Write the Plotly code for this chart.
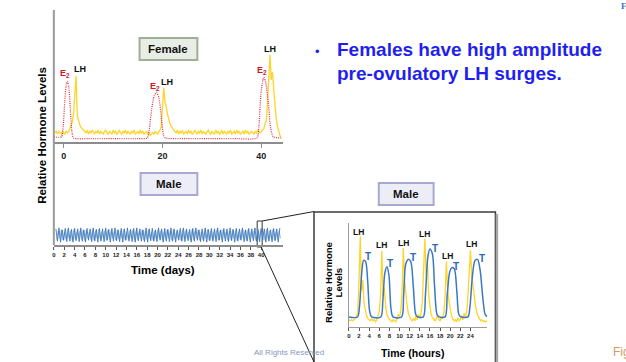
import plotly.graph_objects as go

W, H = 626, 362


def X(px):
    return px / W


def Y(py):
    return 1 - py / H


# ---------------- data ----------------
# Female panel: relative LH (sampled every 0.25 day) and E2 (days)
female_lh_start = -1.75
female_lh_step = 0.25
female_lh = [
    0.07, 0.08, 0.06, 0.08, 0.07, 0.06, 0.08, 0.07, 0.06, 0.08, 0.07, 0.08,
    0.10, 0.13, 0.15, 0.22, 0.40, 0.50, 0.20, 0.15, 0.13, 0.11, 0.10, 0.09, 0.08,
    0.07, 0.09, 0.06, 0.08, 0.07, 0.09, 0.07, 0.06, 0.08, 0.07,
    0.09, 0.06, 0.08, 0.07, 0.06, 0.08, 0.09, 0.07, 0.06, 0.08,
    0.07, 0.06, 0.09, 0.07, 0.08, 0.06, 0.07, 0.09, 0.07, 0.06,
    0.08, 0.07, 0.09, 0.06, 0.08, 0.07, 0.06, 0.08, 0.07, 0.09,
    0.06, 0.07, 0.08, 0.06, 0.09, 0.07, 0.08, 0.06, 0.07, 0.08,
    0.06, 0.07, 0.05, 0.06, 0.07, 0.06, 0.08, 0.07, 0.06, 0.08,
    0.09, 0.12, 0.25, 0.41, 0.30, 0.27, 0.21, 0.17, 0.14, 0.12, 0.10, 0.09,
    0.08, 0.07, 0.09, 0.06, 0.08, 0.07, 0.09, 0.06, 0.07, 0.08,
    0.06, 0.09, 0.07, 0.08, 0.06, 0.07, 0.09, 0.07, 0.06, 0.08,
    0.07, 0.09, 0.06, 0.08, 0.07, 0.06, 0.08, 0.09, 0.07, 0.06,
    0.08, 0.07, 0.06, 0.09, 0.07, 0.08, 0.06, 0.07, 0.09, 0.06,
    0.08, 0.07, 0.06, 0.08, 0.07, 0.09, 0.06, 0.07, 0.08, 0.06,
    0.09, 0.07, 0.08, 0.06, 0.07, 0.08, 0.06, 0.09, 0.07, 0.08,
    0.06, 0.07, 0.08, 0.07, 0.06, 0.08, 0.07, 0.09, 0.08, 0.07,
    0.08, 0.09,
    0.10, 0.14, 0.16, 0.30, 0.55, 0.66, 0.47, 0.53, 0.40, 0.28, 0.18, 0.12,
    0.08, 0.05, 0.03,
]
female_e2_days = [-2.0, -1.0, -0.4, -0.1, 0.2, 0.5, 0.75, 1.05, 1.35, 1.65, 2.0,
                  5.0, 10.0, 15.0, 16.9, 17.3, 17.8, 18.3, 18.8, 19.3, 19.8, 20.2,
                  20.6, 25.0, 30.0, 35.0, 39.1, 39.5, 39.9, 40.3, 40.5, 40.9, 41.4,
                  41.9, 42.4, 44.0]
female_e2 = [0.04, 0.035, 0.04, 0.12, 0.30, 0.43, 0.46, 0.41, 0.24, 0.08, 0.03,
             0.025, 0.025, 0.025, 0.03, 0.09, 0.25, 0.35, 0.376, 0.33, 0.17, 0.05,
             0.03, 0.025, 0.025, 0.025, 0.03, 0.12, 0.36, 0.47, 0.49, 0.45, 0.30,
             0.10, 0.04, 0.03]
female_ticks = [0, 20, 40]

# Male 40-day panel: T and LH pulses (sampled every 0.3 day)
male_step = 0.3
male_t_start = 0.4
male_t = [
    0.17, 0.04, 0.18, 0.03, 0.16, 0.05, 0.175, 0.035, 0.18, 0.04, 0.165, 0.03, 0.175, 0.045, 0.17,
    0.035, 0.18, 0.04, 0.16, 0.03, 0.175, 0.05, 0.17, 0.035, 0.18, 0.04, 0.165, 0.03, 0.175,
    0.04, 0.17, 0.035, 0.18, 0.05, 0.165, 0.03, 0.175, 0.04, 0.18, 0.045, 0.16, 0.035, 0.175, 0.03,
    0.17, 0.05, 0.18, 0.04, 0.165, 0.035, 0.175, 0.03, 0.18, 0.045, 0.17, 0.04, 0.16, 0.035,
    0.18, 0.03, 0.17, 0.045, 0.175, 0.04, 0.16, 0.035, 0.18, 0.05, 0.17, 0.03, 0.175, 0.04, 0.165,
    0.035, 0.18, 0.04, 0.17, 0.03, 0.16, 0.05, 0.175, 0.04, 0.18, 0.035, 0.17, 0.045, 0.165,
    0.03, 0.175, 0.04, 0.18, 0.05, 0.16, 0.035, 0.17, 0.04, 0.18, 0.03, 0.165, 0.045, 0.175, 0.04,
    0.17, 0.035, 0.18, 0.05, 0.16, 0.03, 0.175, 0.04, 0.17, 0.035, 0.18, 0.045, 0.165, 0.03,
    0.175, 0.04, 0.17, 0.05, 0.18, 0.035, 0.16, 0.04, 0.175, 0.03, 0.17, 0.045, 0.18, 0.04, 0.165,
    0.035, 0.175, 0.05, 0.17, 0.03, 0.18, 0.04, 0.16, 0.035, 0.175, 0.045, 0.17, 0.03, 0.18,
]
male_lh_start = 0.55
male_lh = [
    0.06, 0.15, 0.07, 0.16, 0.05, 0.14, 0.06, 0.16, 0.07, 0.15, 0.05, 0.16, 0.06, 0.14, 0.07,
    0.15, 0.06, 0.16, 0.05, 0.15, 0.07, 0.14, 0.06, 0.16, 0.05, 0.15, 0.07, 0.16, 0.06,
    0.14, 0.07, 0.15, 0.05, 0.16, 0.06, 0.15, 0.07, 0.14, 0.05, 0.16, 0.06, 0.15, 0.07, 0.16,
    0.05, 0.14, 0.06, 0.15, 0.07, 0.16, 0.05, 0.15, 0.06, 0.14, 0.07, 0.16, 0.05, 0.15,
    0.06, 0.16, 0.07, 0.14, 0.05, 0.15, 0.06, 0.16, 0.07, 0.15, 0.05, 0.14, 0.06, 0.16, 0.07,
    0.15, 0.05, 0.16, 0.06, 0.14, 0.07, 0.15, 0.05, 0.16, 0.06, 0.15, 0.07, 0.14, 0.05,
    0.16, 0.06, 0.15, 0.07, 0.16, 0.05, 0.14, 0.06, 0.15, 0.07, 0.16, 0.05, 0.15, 0.06, 0.14,
    0.07, 0.16, 0.05, 0.15, 0.06, 0.16, 0.07, 0.14, 0.05, 0.15, 0.06, 0.16, 0.07, 0.15,
    0.05, 0.14, 0.06, 0.16, 0.07, 0.15, 0.05, 0.16, 0.06, 0.14, 0.07, 0.15, 0.05, 0.16, 0.06,
    0.15, 0.07, 0.14, 0.05, 0.16, 0.06, 0.15, 0.07, 0.16, 0.05, 0.14, 0.06, 0.15, 0.07,
]
male_day_ticks = [0, 2, 4, 6, 8, 10, 12, 14, 16, 18, 20, 22, 24, 26, 28, 30, 32, 34, 36, 38, 40]

# Male inset (hours): LH sampled every 0.25 h, T key points
inset_lh_step = 0.25
inset_lh = [
    0.07, 0.06, 0.07, 0.06, 0.07, 0.08, 0.10, 0.14, 0.45, 0.87, 0.35, 0.45, 0.22, 0.15,
    0.11, 0.08, 0.07, 0.06, 0.08, 0.06, 0.07, 0.05, 0.07, 0.12, 0.15, 0.30, 0.73, 0.30,
    0.38, 0.20, 0.12, 0.09, 0.07, 0.06, 0.05, 0.07, 0.06, 0.05, 0.08, 0.12, 0.10, 0.16,
    0.35, 0.76, 0.45, 0.30, 0.20, 0.13, 0.10, 0.07, 0.06, 0.08, 0.06, 0.11, 0.07, 0.12,
    0.08, 0.13, 0.25, 0.55, 0.85, 0.50, 0.62, 0.30, 0.18, 0.12, 0.09, 0.07, 0.06, 0.08,
    0.12, 0.07, 0.06, 0.10, 0.08, 0.14, 0.30, 0.63, 0.35, 0.25, 0.16, 0.11, 0.08, 0.06,
    0.07, 0.05, 0.09, 0.06, 0.07, 0.11, 0.07, 0.13, 0.09, 0.15, 0.30, 0.55, 0.74, 0.50,
    0.40, 0.28, 0.20, 0.14, 0.10, 0.08, 0.06, 0.07, 0.05, 0.06, 0.05, 0.06,
]
inset_t_hours = [0, 1.7, 2.1, 2.5, 2.9, 3.3, 3.7, 4.1, 4.5,
                 6.3, 6.7, 7.1, 7.5, 7.9, 8.3, 8.7,
                 10.4, 10.8, 11.2, 11.7, 12.2, 12.7, 13.2, 13.6,
                 14.7, 15.1, 15.6, 16.0, 16.5, 16.9, 17.4, 17.8,
                 19.0, 19.4, 19.9, 20.3, 20.8, 21.3, 21.7, 22.1,
                 23.5, 23.9, 24.4, 24.9, 25.4, 25.9, 26.4, 26.9, 27.3]
inset_t = [0.096, 0.096, 0.20, 0.50, 0.64, 0.63, 0.45, 0.15, 0.097,
           0.096, 0.25, 0.52, 0.58, 0.50, 0.18, 0.097,
           0.096, 0.30, 0.60, 0.65, 0.63, 0.40, 0.12, 0.097,
           0.097, 0.30, 0.68, 0.75, 0.70, 0.40, 0.12, 0.097,
           0.097, 0.30, 0.53, 0.57, 0.56, 0.35, 0.12, 0.097,
           0.097, 0.20, 0.50, 0.64, 0.65, 0.55, 0.30, 0.12, 0.10]
inset_hour_ticks = [0, 2, 4, 6, 8, 10, 12, 14, 16, 18, 20, 22, 24]

# ---------------- figure ----------------
female_lh_days = [female_lh_start + i * female_lh_step for i in range(len(female_lh))]
male_t_days = [male_t_start + i * male_step for i in range(len(male_t))]
male_lh_days = [male_lh_start + i * male_step for i in range(len(male_lh))]
inset_lh_hours = [i * inset_lh_step for i in range(len(inset_lh))]

YELLOW = "#ffd426"
BLUE = "#3a78c4"
FONT = "Liberation Sans"

fig = go.Figure()
fig.add_trace(go.Scatter(x=female_lh_days, y=female_lh, mode="lines",
                         line=dict(color=YELLOW, width=1.3), xaxis="x", yaxis="y"))
fig.add_trace(go.Scatter(x=female_e2_days, y=female_e2, mode="lines",
                         line=dict(color="#e0283c", width=1.2, dash="1px,1.2px", shape="spline", smoothing=0.6),
                         xaxis="x", yaxis="y"))
fig.add_trace(go.Scatter(x=male_lh_days, y=male_lh, mode="lines",
                         line=dict(color="#a3c2e3", width=1), xaxis="x2", yaxis="y2"))
fig.add_trace(go.Scatter(x=male_t_days, y=male_t, mode="lines",
                         line=dict(color="#2f6db5", width=0.8), xaxis="x2", yaxis="y2"))
fig.add_trace(go.Scatter(x=inset_lh_hours, y=inset_lh, mode="lines",
                         line=dict(color=YELLOW, width=1.3), xaxis="x3", yaxis="y3"))
fig.add_trace(go.Scatter(x=inset_t_hours, y=inset_t, mode="lines",
                         line=dict(color=BLUE, width=1.5, shape="spline", smoothing=0.8),
                         xaxis="x3", yaxis="y3"))

tickfont_small = dict(family=FONT, size=6, color="#222", weight="bold")
fig.update_layout(
    width=W, height=H, margin=dict(l=0, r=0, t=0, b=0),
    paper_bgcolor="white", plot_bgcolor="rgba(0,0,0,0)", showlegend=False,
    xaxis=dict(domain=[X(52), X(282)], range=[-2.0, 44.4], anchor="y", showline=True,
               linecolor="#8c8c8c", linewidth=1.5, ticks="outside", ticklen=4,
               tickcolor="#8c8c8c", tickvals=female_ticks,
               tickfont=dict(family=FONT, size=9, color="#222", weight="bold"),
               showgrid=False, zeroline=False),
    yaxis=dict(domain=[Y(142), Y(10)], range=[0, 1], visible=False),
    xaxis2=dict(domain=[X(52), X(282)], range=[0, 44.23], anchor="y2", showline=True,
                linecolor="#8c8c8c", linewidth=1.5, ticks="outside", ticklen=3,
                tickcolor="#555", tickvals=male_day_ticks, tickfont=tickfont_small,
                showgrid=False, zeroline=False),
    yaxis2=dict(domain=[Y(245), Y(150)], range=[0, 1], visible=False),
    xaxis3=dict(domain=[X(348), X(487)], range=[0, 27.35], anchor="y3", showline=True,
                linecolor="#9a9a9a", linewidth=1, ticks="outside", ticklen=3,
                tickcolor="#555", tickvals=inset_hour_ticks, tickfont=tickfont_small,
                showgrid=False, zeroline=False),
    yaxis3=dict(domain=[Y(327), Y(223)], range=[0, 1], anchor="x3", showline=True,
                linecolor="#9a9a9a", linewidth=1, showticklabels=False, ticks="",
                showgrid=False, zeroline=False),
)

shapes = []


def rect(x0, y0, x1, y1, line, width, fill="rgba(0,0,0,0)"):
    shapes.append(dict(type="rect", xref="paper", yref="paper", x0=X(x0), y0=Y(y0),
                       x1=X(x1), y1=Y(y1), line=dict(color=line, width=width), fillcolor=fill,
                       layer="below"))


def seg(x0, y0, x1, y1, color, width):
    shapes.append(dict(type="line", xref="paper", yref="paper", x0=X(x0), y0=Y(y0),
                       x1=X(x1), y1=Y(y1), line=dict(color=color, width=width)))


# main vertical axis line
seg(52, 10, 52, 245, "#9a9a9a", 2)
# label boxes
rect(138, 38, 196, 60, "#9fae96", 2, "#e8ede5")
rect(139, 173, 196, 195, "#a9a9d0", 2, "#ededf8")
rect(378, 183, 433, 205, "#a9a9d0", 2, "#ededf8")
# inset frame with shadow
seg(496.5, 214, 496.5, 362, "#a8a8a8", 2.5)
rect(313, 212, 495, 366, "#3c3c3c", 1.5)
# zoom window and connecting lines
rect(256, 221, 261, 247, "#333333", 1)
seg(261, 221, 313, 211.5, "#222222", 1)
seg(260, 247, 313, 362, "#222222", 1)
fig.update_layout(shapes=shapes)

annotations = []


def txt(x, y, s, size, color="#111", bold=True, xanchor="center", angle=0, family=FONT):
    annotations.append(dict(xref="paper", yref="paper", x=X(x), y=Y(y), text=s,
                            showarrow=False, xanchor=xanchor, yanchor="middle",
                            textangle=angle,
                            font=dict(family=family, size=size, color=color,
                                      weight="bold" if bold else "normal")))


txt(167, 49, "Female", 11.5)
txt(167.5, 184, "Male", 11.5)
txt(405.5, 194, "Male", 11.5)
txt(40, 135, "Relative Hormone Levels", 11.5, "#000", angle=-90)
txt(162, 270, "Time (days)", 11.5, "#000")
txt(412, 353, "Time (hours)", 10.5, "#000")
txt(327, 282, "Relative Hormone", 9.5, "#000", angle=-90)
txt(337.5, 282, "Levels", 9.5, "#000", angle=-90)

RED = "#cc1628"
txt(63, 73, "E<sub>2</sub>", 9, RED)
txt(78, 69, "LH", 9)
txt(153, 86.5, "E<sub>2</sub>", 9, RED)
txt(166, 81.5, "LH", 9)
txt(261, 70, "E<sub>2</sub>", 9, RED)
txt(268.5, 49, "LH", 9)

TBLUE = "#2a6ab8"
for lx, ly, tx, ty in [(358, 232, 367, 256), (381, 245, 389, 263), (403, 243, 412, 257),
                       (424, 234, 434, 248), (447, 256, 455, 266), (471, 244, 482, 258)]:
    txt(lx, ly, "LH", 8.5)
    txt(tx, ty, "T", 10, TBLUE)

TXT_BLUE = "#1f1ff0"
txt(312, 51, "•", 13, TXT_BLUE, bold=False, xanchor="left")
txt(334, 50, "Females have high amplitude", 19, TXT_BLUE, xanchor="left")
txt(334, 73, "pre-ovulatory LH surges.", 19, TXT_BLUE, xanchor="left")

txt(251, 352, "All Rights Reserved", 8, "#8797c0", bold=False, xanchor="left")
txt(611, 352, "Fig", 12, "#d49a62", bold=False, xanchor="left")
txt(619, 6, "F", 9, "#3b6fc4", bold=True, xanchor="left", family="Liberation Serif")
fig.update_layout(annotations=annotations)

fig.write_html("out.html", config={"displayModeBar": False},
               post_script="document.body.style.margin='0px';document.body.style.overflow='hidden';")
